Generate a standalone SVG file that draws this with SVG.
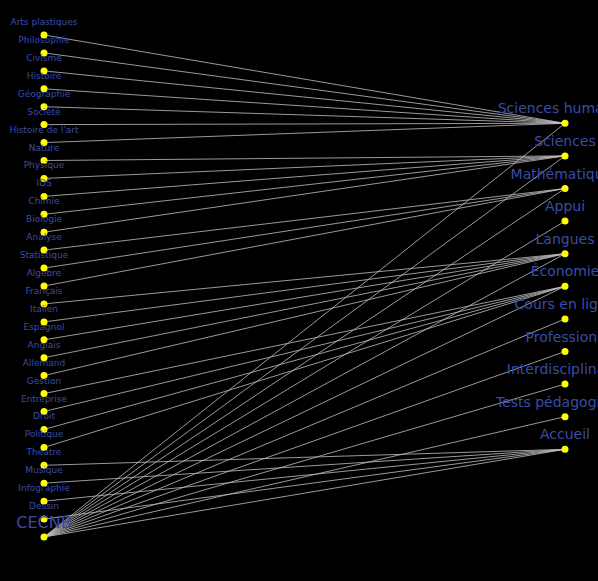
<svg xmlns="http://www.w3.org/2000/svg" width="598" height="581" viewBox="0 0 598 581">
<style>
.e{stroke:#c0c0c0;stroke-width:0.8;fill:none}
.n circle{fill:#ffff00}
.n text{font-family:"DejaVu Sans",Verdana,sans-serif;fill:#3b4ca6;text-anchor:middle}
.s text{font-size:9px}
.r text{font-size:14px}
.b text{font-size:16px}
</style>
<rect width="598" height="581" fill="#000"/>
<g id="edges">
<line class="e" x1="44" y1="35.0" x2="565" y2="123.3"/>
<line class="e" x1="44" y1="52.9" x2="565" y2="123.3"/>
<line class="e" x1="44" y1="70.9" x2="565" y2="123.3"/>
<line class="e" x1="44" y1="88.8" x2="565" y2="123.3"/>
<line class="e" x1="44" y1="106.7" x2="565" y2="123.3"/>
<line class="e" x1="44" y1="124.6" x2="565" y2="123.3"/>
<line class="e" x1="44" y1="142.6" x2="565" y2="123.3"/>
<line class="e" x1="44" y1="160.5" x2="565" y2="155.9"/>
<line class="e" x1="44" y1="178.4" x2="565" y2="155.9"/>
<line class="e" x1="44" y1="196.4" x2="565" y2="155.9"/>
<line class="e" x1="44" y1="214.3" x2="565" y2="155.9"/>
<line class="e" x1="44" y1="232.2" x2="565" y2="155.9"/>
<line class="e" x1="44" y1="250.1" x2="565" y2="188.5"/>
<line class="e" x1="44" y1="268.1" x2="565" y2="188.5"/>
<line class="e" x1="44" y1="286.0" x2="565" y2="188.5"/>
<line class="e" x1="44" y1="303.9" x2="565" y2="253.7"/>
<line class="e" x1="44" y1="321.9" x2="565" y2="253.7"/>
<line class="e" x1="44" y1="339.8" x2="565" y2="253.7"/>
<line class="e" x1="44" y1="357.7" x2="565" y2="253.7"/>
<line class="e" x1="44" y1="375.6" x2="565" y2="253.7"/>
<line class="e" x1="44" y1="393.6" x2="565" y2="286.3"/>
<line class="e" x1="44" y1="411.5" x2="565" y2="286.3"/>
<line class="e" x1="44" y1="429.4" x2="565" y2="286.3"/>
<line class="e" x1="44" y1="447.4" x2="565" y2="286.3"/>
<line class="e" x1="44" y1="465.3" x2="565" y2="449.3"/>
<line class="e" x1="44" y1="483.2" x2="565" y2="449.3"/>
<line class="e" x1="44" y1="501.2" x2="565" y2="449.3"/>
<line class="e" x1="44" y1="519.1" x2="565" y2="449.3"/>
<line class="e" x1="44" y1="537" x2="565" y2="123.3"/>
<line class="e" x1="44" y1="537" x2="565" y2="155.9"/>
<line class="e" x1="44" y1="537" x2="565" y2="188.5"/>
<line class="e" x1="44" y1="537" x2="565" y2="221.1"/>
<line class="e" x1="44" y1="537" x2="565" y2="253.7"/>
<line class="e" x1="44" y1="537" x2="565" y2="286.3"/>
<line class="e" x1="44" y1="537" x2="565" y2="318.9"/>
<line class="e" x1="44" y1="537" x2="565" y2="351.5"/>
<line class="e" x1="44" y1="537" x2="565" y2="384.1"/>
<line class="e" x1="44" y1="537" x2="565" y2="416.7"/>
<line class="e" x1="44" y1="537" x2="565" y2="449.3"/>
</g>
<g id="node-arts-plastiques" class="n s"><circle cx="44" cy="35.0" r="3.5"/><text x="44" y="25.0">Arts plastiques</text></g>
<g id="node-philosophie" class="n s"><circle cx="44" cy="52.9" r="3.5"/><text x="44" y="42.9">Philosophie</text></g>
<g id="node-civisme" class="n s"><circle cx="44" cy="70.9" r="3.5"/><text x="44" y="60.9">Civisme</text></g>
<g id="node-histoire" class="n s"><circle cx="44" cy="88.8" r="3.5"/><text x="44" y="78.8">Histoire</text></g>
<g id="node-geographie" class="n s"><circle cx="44" cy="106.7" r="3.5"/><text x="44" y="96.7">Géographie</text></g>
<g id="node-societe" class="n s"><circle cx="44" cy="124.6" r="3.5"/><text x="44" y="114.6">Société</text></g>
<g id="node-histoire-art" class="n s"><circle cx="44" cy="142.6" r="3.5"/><text x="44" y="132.6">Histoire de l'art</text></g>
<g id="node-nature" class="n s"><circle cx="44" cy="160.5" r="3.5"/><text x="44" y="150.5">Nature</text></g>
<g id="node-physique" class="n s"><circle cx="44" cy="178.4" r="3.5"/><text x="44" y="168.4">Physique</text></g>
<g id="node-ids" class="n s"><circle cx="44" cy="196.4" r="3.5"/><text x="44" y="186.4">IDS</text></g>
<g id="node-chimie" class="n s"><circle cx="44" cy="214.3" r="3.5"/><text x="44" y="204.3">Chimie</text></g>
<g id="node-biologie" class="n s"><circle cx="44" cy="232.2" r="3.5"/><text x="44" y="222.2">Biologie</text></g>
<g id="node-analyse" class="n s"><circle cx="44" cy="250.1" r="3.5"/><text x="44" y="240.1">Analyse</text></g>
<g id="node-statistique" class="n s"><circle cx="44" cy="268.1" r="3.5"/><text x="44" y="258.1">Statistique</text></g>
<g id="node-algebre" class="n s"><circle cx="44" cy="286.0" r="3.5"/><text x="44" y="276.0">Algebre</text></g>
<g id="node-francais" class="n s"><circle cx="44" cy="303.9" r="3.5"/><text x="44" y="293.9">Français</text></g>
<g id="node-italien" class="n s"><circle cx="44" cy="321.9" r="3.5"/><text x="44" y="311.9">Italien</text></g>
<g id="node-espagnol" class="n s"><circle cx="44" cy="339.8" r="3.5"/><text x="44" y="329.8">Espagnol</text></g>
<g id="node-anglais" class="n s"><circle cx="44" cy="357.7" r="3.5"/><text x="44" y="347.7">Anglais</text></g>
<g id="node-allemand" class="n s"><circle cx="44" cy="375.6" r="3.5"/><text x="44" y="365.6">Allemand</text></g>
<g id="node-gestion" class="n s"><circle cx="44" cy="393.6" r="3.5"/><text x="44" y="383.6">Gestion</text></g>
<g id="node-entreprise" class="n s"><circle cx="44" cy="411.5" r="3.5"/><text x="44" y="401.5">Entreprise</text></g>
<g id="node-droit" class="n s"><circle cx="44" cy="429.4" r="3.5"/><text x="44" y="419.4">Droit</text></g>
<g id="node-politique" class="n s"><circle cx="44" cy="447.4" r="3.5"/><text x="44" y="437.4">Politique</text></g>
<g id="node-theatre" class="n s"><circle cx="44" cy="465.3" r="3.5"/><text x="44" y="455.3">Theatre</text></g>
<g id="node-musique" class="n s"><circle cx="44" cy="483.2" r="3.5"/><text x="44" y="473.2">Musique</text></g>
<g id="node-infographie" class="n s"><circle cx="44" cy="501.2" r="3.5"/><text x="44" y="491.2">Infographie</text></g>
<g id="node-dessin" class="n s"><circle cx="44" cy="519.1" r="3.5"/><text x="44" y="509.1">Dessin</text></g>
<g id="node-cecnb" class="n b"><circle cx="44" cy="537" r="3.5"/><text x="44" y="528">CECNB</text></g>
<g id="node-sciences-humaines" class="n r"><circle cx="565" cy="123.3" r="3.5"/><text x="565" y="113.3">Sciences humaines</text></g>
<g id="node-sciences" class="n r"><circle cx="565" cy="155.9" r="3.5"/><text x="565" y="145.9">Sciences</text></g>
<g id="node-mathematiques" class="n r"><circle cx="565" cy="188.5" r="3.5"/><text x="565" y="178.5">Mathématiques</text></g>
<g id="node-appui" class="n r"><circle cx="565" cy="221.1" r="3.5"/><text x="565" y="211.1">Appui</text></g>
<g id="node-langues" class="n r"><circle cx="565" cy="253.7" r="3.5"/><text x="565" y="243.7">Langues</text></g>
<g id="node-economie" class="n r"><circle cx="565" cy="286.3" r="3.5"/><text x="565" y="276.3">Économie</text></g>
<g id="node-cours-en-ligne" class="n r"><circle cx="565" cy="318.9" r="3.5"/><text x="565" y="308.9">Cours en ligne</text></g>
<g id="node-professions" class="n r"><circle cx="565" cy="351.5" r="3.5"/><text x="565" y="341.5">Professions</text></g>
<g id="node-interdisciplinaire" class="n r"><circle cx="565" cy="384.1" r="3.5"/><text x="565" y="374.1">Interdisciplinaire</text></g>
<g id="node-tests" class="n r"><circle cx="565" cy="416.7" r="3.5"/><text x="565" y="406.7">Tests pédagogiques</text></g>
<g id="node-accueil" class="n r"><circle cx="565" cy="449.3" r="3.5"/><text x="565" y="439.3">Accueil</text></g>
</svg>
